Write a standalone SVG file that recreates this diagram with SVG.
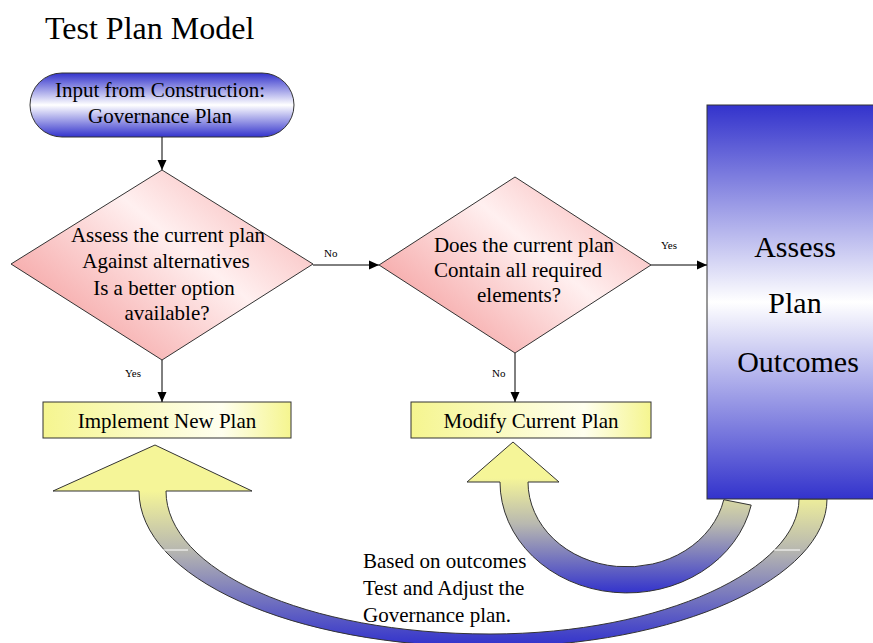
<svg xmlns="http://www.w3.org/2000/svg" width="873" height="643" viewBox="0 0 873 643">
<defs>
<style>
text{font-family:"Liberation Serif","Times New Roman",serif;fill:#000}
.t{font-size:21px}
.s{font-size:11px}
.big{font-size:30px}
.edge{stroke:#000;stroke-width:1;fill:none;marker-end:url(#ah)}
.ol{stroke:#333;stroke-width:1}
</style>
<marker id="ah" viewBox="0 0 10 10" refX="10" refY="5" markerWidth="10" markerHeight="10" markerUnits="userSpaceOnUse" orient="auto">
<path d="M0,0.5 L10,5 L0,9.5 Z" fill="#000"/>
</marker>
<linearGradient id="gBlue" x1="0" y1="0" x2="0" y2="1">
<stop offset="0" stop-color="#3333cc"/>
<stop offset="0.5" stop-color="#ffffff"/>
<stop offset="1" stop-color="#3333cc"/>
</linearGradient>
<linearGradient id="gPink" x1="0.05" y1="0.85" x2="0.95" y2="0.15">
<stop offset="0" stop-color="#f49a9a"/>
<stop offset="0.6" stop-color="#fff0f0"/>
<stop offset="1" stop-color="#f8b8b8"/>
</linearGradient>
<linearGradient id="gYel" x1="0" y1="0" x2="1" y2="0">
<stop offset="0" stop-color="#f5f58f"/>
<stop offset="0.72" stop-color="#ffffef"/>
<stop offset="1" stop-color="#f5f58f"/>
</linearGradient>
<linearGradient id="gArcBig" gradientUnits="userSpaceOnUse" x1="0" y1="491" x2="0" y2="645">
<stop offset="0" stop-color="#f5f598"/>
<stop offset="0.38" stop-color="#b8b8b0"/>
<stop offset="1" stop-color="#3333cc"/>
</linearGradient>
<linearGradient id="gArcSmall" gradientUnits="userSpaceOnUse" x1="0" y1="478" x2="0" y2="593">
<stop offset="0" stop-color="#f5f598"/>
<stop offset="0.4" stop-color="#b8b8b0"/>
<stop offset="1" stop-color="#3333cc"/>
</linearGradient>
</defs>
<rect width="873" height="643" fill="#fff"/>
<text x="45" y="39" style="font-size:32px">Test Plan Model</text>

<g id="arc-big">
<path class="ol" fill="url(#gArcBig)" d="M53,491 L155,445 L252,491 L166,491 C166,570 305,634 490,634 C665,634 799,568 799,499 L827,499 C827,577 680,647 490,647 C290,647 139,577 139,491 Z"/>
<line x1="163" y1="550" x2="188" y2="550" stroke="#fff" stroke-width="1"/>
<line x1="774" y1="550" x2="800" y2="550" stroke="#fff" stroke-width="1"/>
</g>
<g id="arc-small">
<path class="ol" fill="url(#gArcSmall)" d="M467,482 L513,442 L559,482 L528,482 A99,85 0 0 0 723.8,499.7 L751.2,505.1 A127,111 0 0 1 500,482 Z"/>
</g>

<g id="start">
<rect class="ol" x="30" y="73" width="264" height="64" rx="32" ry="32" fill="url(#gBlue)"/>
<text class="t" x="160" y="97" text-anchor="middle">Input from Construction:</text>
<text class="t" x="160" y="123" text-anchor="middle">Governance Plan</text>
</g>
<g id="decision1">
<polygon class="ol" points="162,170 313,264 162,360 11,264" fill="url(#gPink)"/>
<text class="t" x="168" y="242" text-anchor="middle">Assess the current plan</text>
<text class="t" x="166" y="268" text-anchor="middle">Against alternatives</text>
<text class="t" x="164" y="295" text-anchor="middle">Is a better option</text>
<text class="t" x="167" y="320" text-anchor="middle">available?</text>
</g>
<g id="decision2">
<polygon class="ol" points="515,177 651,265 515,353 379,265" fill="url(#gPink)"/>
<text class="t" x="524" y="252" text-anchor="middle">Does the current plan</text>
<text class="t" x="518" y="277" text-anchor="middle">Contain all required</text>
<text class="t" x="519" y="302" text-anchor="middle">elements?</text>
</g>
<g id="implement">
<rect class="ol" x="43" y="402" width="248" height="36" fill="url(#gYel)"/>
<text class="t" x="167" y="428" text-anchor="middle">Implement New Plan</text>
</g>
<g id="modify">
<rect class="ol" x="411" y="402" width="240" height="36" fill="url(#gYel)"/>
<text class="t" x="531" y="428" text-anchor="middle">Modify Current Plan</text>
</g>
<g id="assess">
<rect class="ol" x="707" y="105" width="170" height="394" fill="url(#gBlue)"/>
<text class="big" x="795" y="257" text-anchor="middle">Assess</text>
<text class="big" x="795" y="313" text-anchor="middle">Plan</text>
<text class="big" x="798" y="372" text-anchor="middle">Outcomes</text>
</g>
<g id="note">
<text class="t" x="363" y="568">Based on outcomes</text>
<text class="t" x="363" y="595">Test and Adjust the</text>
<text class="t" x="363" y="622">Governance plan.</text>
</g>

<g id="connectors">
<line class="edge" x1="162" y1="137" x2="162" y2="170"/>
<line class="edge" x1="313" y1="265" x2="379" y2="265"/>
<line class="edge" x1="651" y1="265" x2="707" y2="265"/>
<line class="edge" x1="162" y1="360" x2="162" y2="402"/>
<line class="edge" x1="515" y1="353" x2="515" y2="402"/>
<text class="s" x="324" y="257">No</text>
<text class="s" x="661" y="249">Yes</text>
<text class="s" x="125" y="377">Yes</text>
<text class="s" x="492" y="377">No</text>
</g>
</svg>
